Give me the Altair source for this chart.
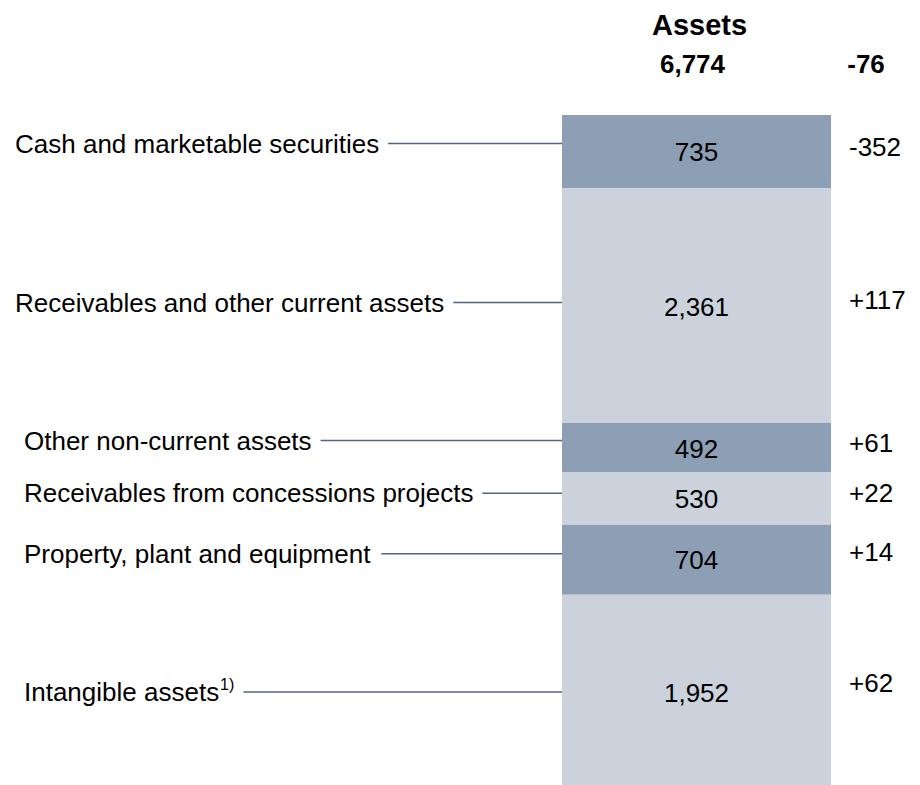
import altair as alt
import pandas as pd

# ---- data ----
categories = [
    "Cash and marketable securities",
    "Receivables and other current assets",
    "Other non-current assets",
    "Receivables from concessions projects",
    "Property, plant and equipment",
    "Intangible assets",
]
values = [735, 2361, 492, 530, 704, 1952]
value_labels = ["735", "2,361", "492", "530", "704", "1,952"]
changes = ["-352", "+117", "+61", "+22", "+14", "+62"]
shades = ["dark", "light", "dark", "light", "dark", "light"]
footnotes = ["", "", "", "", "", "1)"]
column_title = "Assets"
total_label = "6,774"
total_change = "-76"

# ---- layout / style ----
W, H = 904, 777
FS = 26
label_x = [7, 7, 16, 16, 16, 16]            # left text start (plot coords)
label_dy = [-8, -3, -7, -5, -6, 0]          # px offset of label/leader from segment centre
change_dy = [-4, -5, -4, -4, -7, -8]        # px offset of change label from segment centre
value_dy = [1, 2, 2, 2, 1, 2]
bar_x0, bar_x1 = 554, 823
change_x = 841
y_top, px_per_unit = 107, 0.0995
dark, light = "#8C9FB5", "#CBD2DB"
line_color = "#4F6585"

arial = {" ": 278, ",": 278, "-": 333, "C": 722, "R": 722, "O": 778, "P": 667, "I": 278,
         "a": 556, "b": 556, "c": 500, "d": 556, "e": 556, "f": 278, "g": 556, "h": 556,
         "i": 222, "j": 222, "k": 500, "l": 222, "m": 833, "n": 556, "o": 556, "p": 556,
         "q": 556, "r": 333, "s": 500, "t": 278, "u": 556, "v": 500, "y": 500, "1": 556, ")": 333}


def text_w(s, fs):
    return sum(arial.get(ch, 556) for ch in s) / 1000 * fs


total = sum(values)
starts, ends = [], []
acc = 0
for v in values:
    starts.append(acc)
    acc += v
    ends.append(acc)

rows = []
for i, c in enumerate(categories):
    mid = (starts[i] + ends[i]) / 2
    tw = text_w(c, FS)
    sup_x = label_x[i] + tw + 1
    end_text = sup_x + (text_w(footnotes[i], FS * 0.62) if footnotes[i] else -1)
    rows.append({
        "category": c, "value": values[i], "vlabel": value_labels[i], "change": changes[i],
        "shade": shades[i], "start": starts[i], "end": ends[i],
        "lpos": mid + label_dy[i] / px_per_unit,
        "cpos": mid + change_dy[i] / px_per_unit,
        "vpos": mid + value_dy[i] / px_per_unit,
        "lx": label_x[i], "sup": footnotes[i], "supx": sup_x,
        "line_x0": end_text + 9, "line_x1": bar_x0,
    })
df = pd.DataFrame(rows)

yscale = alt.Scale(domain=[0, total], range=[y_top, y_top + px_per_unit * total], nice=False, zero=False)
xscale = alt.Scale(domain=[0, W], range=[0, W], nice=False, zero=False)

base = alt.Chart(df)

bars = base.mark_rect().encode(
    x=alt.value(bar_x0), x2=alt.value(bar_x1),
    y=alt.Y("start:Q", scale=yscale, axis=None), y2="end:Q",
    color=alt.Color("shade:N", scale=alt.Scale(domain=["dark", "light"], range=[dark, light]), legend=None),
)

vtext = base.mark_text(fontSize=FS, font="Liberation Sans", color="#000000", align="center",
                       baseline="middle").encode(
    x=alt.value((bar_x0 + bar_x1) / 2),
    y=alt.Y("vpos:Q", scale=yscale, axis=None), text="vlabel:N")

ctext = base.mark_text(fontSize=FS, font="Liberation Sans", color="#000000", align="left",
                       baseline="middle").encode(
    x=alt.value(change_x), y=alt.Y("cpos:Q", scale=yscale, axis=None), text="change:N")

ltext = base.mark_text(fontSize=FS, font="Liberation Sans", color="#000000", align="left",
                       baseline="middle", dy=1).encode(
    x=alt.X("lx:Q", scale=xscale, axis=None), y=alt.Y("lpos:Q", scale=yscale, axis=None),
    text="category:N")

stext = base.mark_text(fontSize=FS * 0.62, font="Liberation Sans", color="#000000", align="left",
                       baseline="middle", dy=-7).encode(
    x=alt.X("supx:Q", scale=xscale, axis=None), y=alt.Y("lpos:Q", scale=yscale, axis=None),
    text="sup:N")

lines = base.mark_rule(color=line_color, strokeWidth=1.5).encode(
    x=alt.X("line_x0:Q", scale=xscale, axis=None), x2="line_x1:Q",
    y=alt.Y("lpos:Q", scale=yscale, axis=None))

hdf = pd.DataFrame({"t": [column_title, total_label, total_change],
                    "px": [(bar_x0 + bar_x1) / 2 + 3, (bar_x0 + bar_x1) / 2 - 4, 858],
                    "py": [27, 65, 65], "fs": [29, 26, 26]})
head = alt.Chart(hdf).mark_text(font="Liberation Sans", fontWeight="bold", color="#000000",
                                align="center", baseline="alphabetic").encode(
    x=alt.X("px:Q", scale=xscale, axis=None),
    y=alt.Y("py:Q", scale=alt.Scale(domain=[0, H], range=[0, H], nice=False, zero=False), axis=None),
    text="t:N", size=alt.Size("fs:Q", scale=None, legend=None))

chart = alt.layer(bars, vtext, ctext, lines, ltext, stext, head).resolve_scale(
    y="independent"
).properties(width=W, height=H, autosize=alt.AutoSizeParams(type="none"), padding=0
).configure_view(stroke=None)

chart.save("out.html", embed_options={"renderer": "svg", "actions": False})
